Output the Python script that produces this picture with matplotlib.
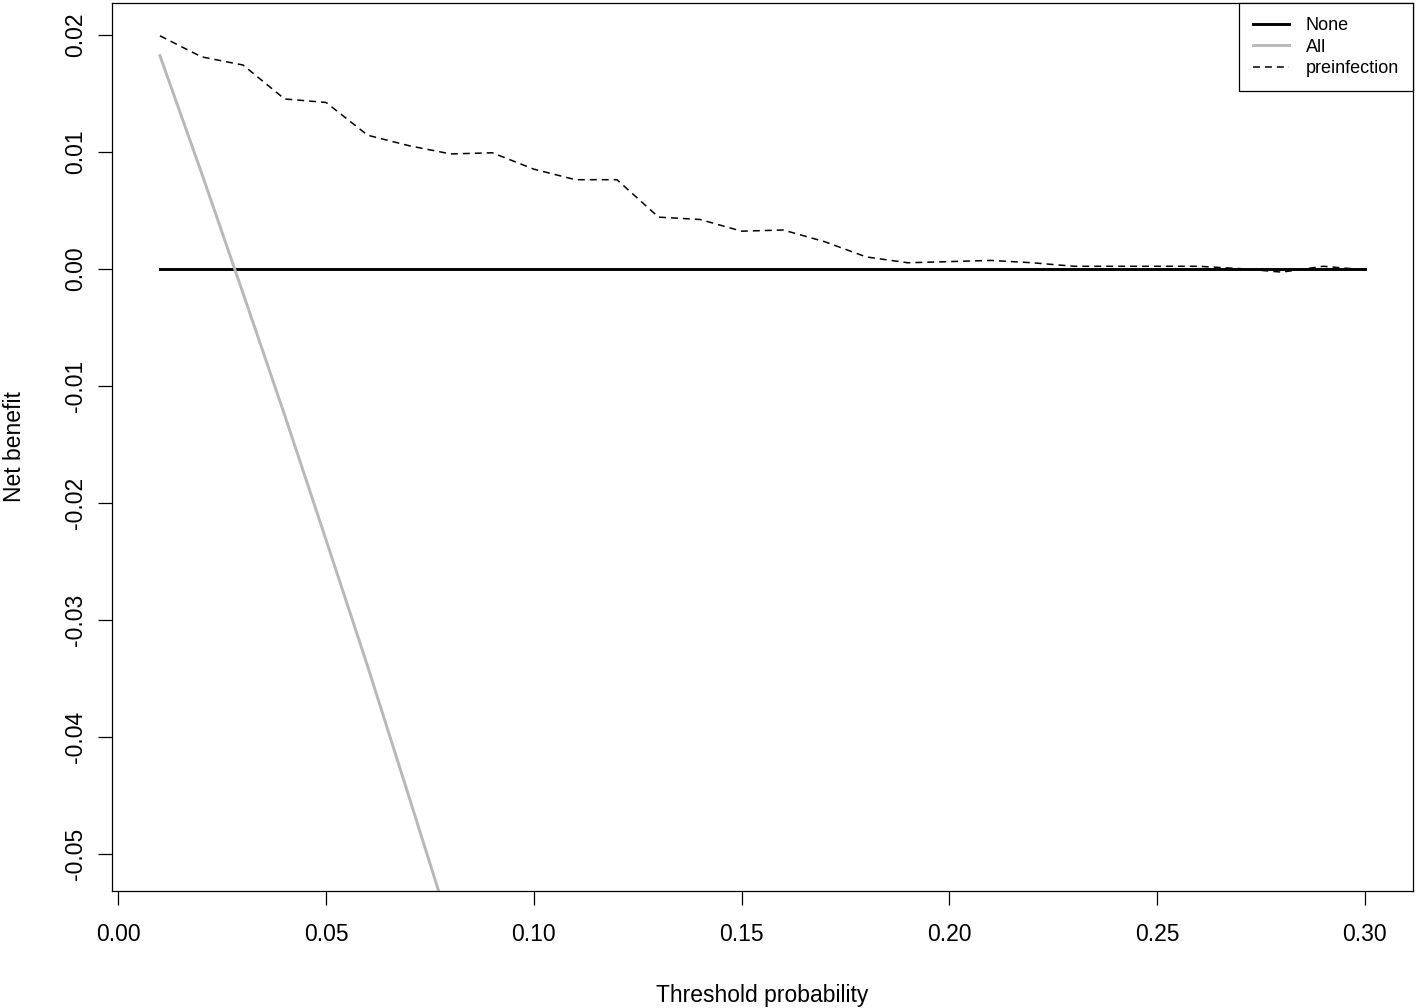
import numpy as np
import matplotlib.pyplot as plt

plt.rcParams['font.family'] = ['Liberation Sans', 'DejaVu Sans']
plt.rcParams['lines.scale_dashes'] = False

# threshold probabilities and net benefit values
thresholds = [0.01, 0.02, 0.03, 0.04, 0.05, 0.06, 0.07, 0.08, 0.09, 0.10,
              0.11, 0.12, 0.13, 0.14, 0.15, 0.16, 0.17, 0.18, 0.19, 0.20,
              0.21, 0.22, 0.23, 0.24, 0.25, 0.26, 0.27, 0.28, 0.29, 0.30]
nb_none = [0.0] * len(thresholds)
nb_preinfection = [0.0199, 0.0181, 0.0174, 0.0145, 0.0142, 0.0114, 0.0105, 0.0098, 0.0099, 0.0085,
                   0.0076, 0.0076, 0.0044, 0.0042, 0.0032, 0.0033, 0.0023, 0.0010, 0.0005, 0.0006,
                   0.0007, 0.0005, 0.0002, 0.0002, 0.0002, 0.0002, 0.0000, -0.0003, 0.0002, -0.0001]
# "All" strategy - only the visible part before it leaves the plot
all_thresholds = [0.01, 0.02, 0.03, 0.04, 0.05, 0.06, 0.07, 0.08]
nb_all = [0.0182, 0.0082, -0.0021, -0.0125, -0.0232, -0.0340, -0.0452, -0.0565]

fig = plt.figure(figsize=(14.18, 10.08), dpi=100)
ax = fig.add_axes([0.0788, 0.116, 0.9177, 0.881])

ax.plot(thresholds, nb_none, color='black', lw=2.1, label='None')
ax.plot(all_thresholds, nb_all, color='#b8b8b8', lw=2.1, label='All')
ax.plot(thresholds, nb_preinfection, color='black', lw=1.1, dashes=(5, 3.6), label='preinfection')

ax.set_xlim(-0.0016, 0.3116)
ax.set_ylim(-0.0532, 0.0227)
ax.set_xticks([0.00, 0.05, 0.10, 0.15, 0.20, 0.25, 0.30])
ax.set_xticklabels(['0.00', '0.05', '0.10', '0.15', '0.20', '0.25', '0.30'])
ax.set_yticks([-0.05, -0.04, -0.03, -0.02, -0.01, 0.00, 0.01, 0.02])
ax.set_yticklabels(['-0.05', '-0.04', '-0.03', '-0.02', '-0.01', '0.00', '0.01', '0.02'],
                   rotation=90, va='center')

ax.tick_params(axis='both', length=10, width=0.9, labelsize=16.5, direction='out')
ax.tick_params(axis='x', pad=13)
ax.tick_params(axis='y', pad=8)
for s in ax.spines.values():
    s.set_linewidth(0.9)

ax.set_xlabel('Threshold probability', fontsize=16.5, labelpad=27)
ax.set_ylabel('Net benefit', fontsize=16.5, labelpad=27)

leg = ax.legend(loc='upper right', bbox_to_anchor=(1, 1), borderaxespad=0,
                fontsize=13, fancybox=False, edgecolor='black', framealpha=1,
                handlelength=2.0, handletextpad=0.9, labelspacing=0.25, borderpad=0.78)
leg.get_frame().set_linewidth(0.9)

fig.savefig('out.png', dpi=100)
